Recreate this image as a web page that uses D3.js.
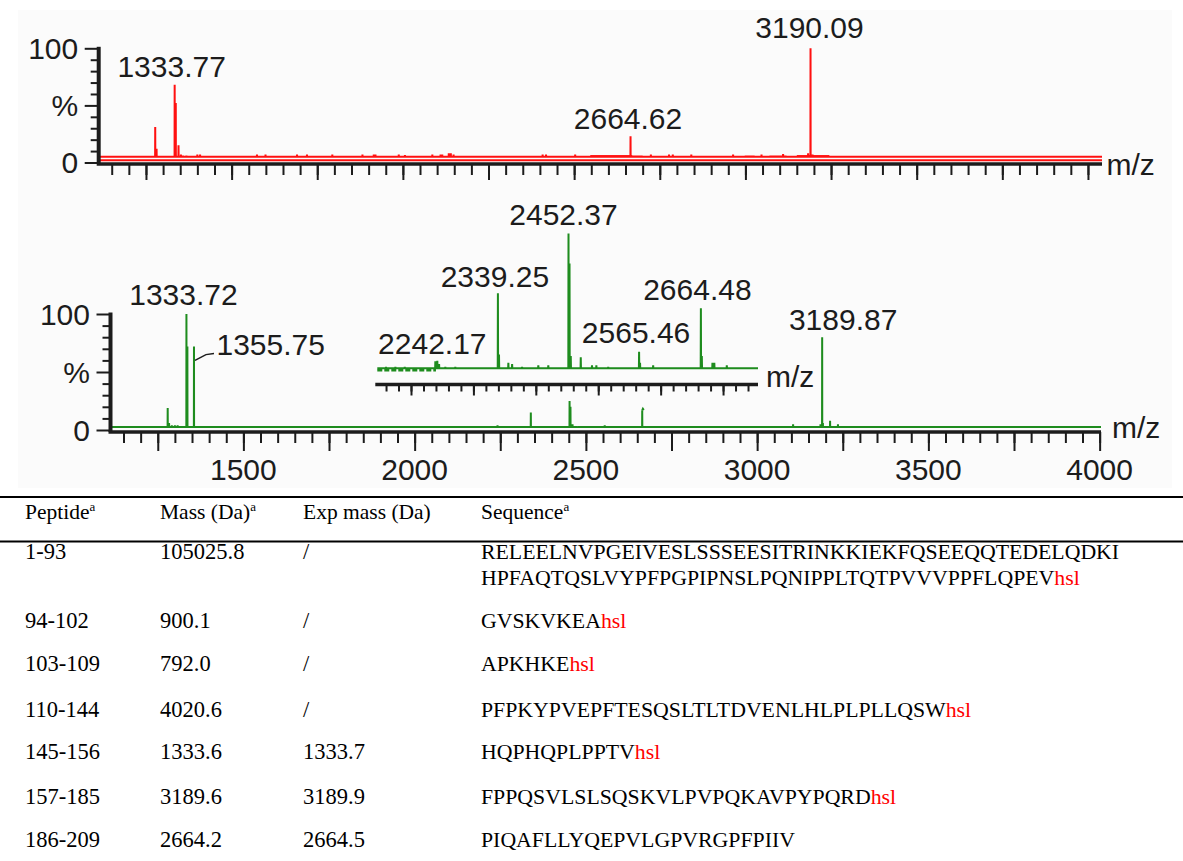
<!DOCTYPE html>
<html>
<head>
<meta charset="utf-8">
<script src="https://cdn.jsdelivr.net/npm/d3@7"></script>
<style>
  body { margin: 0; background: #fff; }
  svg { display: block; }
</style>
</head>
<body>
<svg id="chart" width="1183" height="861"></svg>
<script>
// ---------- Spectrum data (m/z, relative intensity %) ----------
// Upper spectrum (red)
const topMz  = [1277, 1281, 1333.77, 1337, 1345, 1352, 1358, 1368, 1400, 1408, 1574, 1599, 1691, 1720, 1794,
                1882, 1915, 1920, 1988, 2006, 2086, 2110, 2115, 2134, 2140, 2148, 2408, 2418, 2503, 2664.62,
                2724, 2777, 2788, 2842, 2964, 3047, 3110, 3183, 3190.09, 3196];
const topInt = [31, 12, 68, 52, 15, 7, 6, 6, 7, 7, 7, 7, 7, 7, 7,
                7, 7, 7, 7, 6.5, 7, 7, 7, 8, 8, 7, 7, 7, 7, 23,
                7, 7, 7, 7, 7, 7, 7.5, 8, 100, 7];
// raised noise stretches of the upper trace
const topBandFrom  = [2547, 2670, 2998, 3070, 3150];
const topBandTo    = [2670, 2700, 3027, 3120, 3245];
const topBandLevel = [6.5, 6, 6, 6, 6.5];
const topFloor = 5;

// Lower spectrum (green)
const botMz  = [1279, 1283, 1291, 1300, 1308, 1333.72, 1336.5, 1355.75, 2242, 2339.25, 2452.37, 2455, 2461,
                2475, 2555, 2664.48, 3105, 3185, 3189.87, 3192, 3213, 3236];
const botInt = [19, 6, 4, 4, 4, 100, 72, 72, 4, 15, 25, 20, 5,
                3, 4, 17, 5, 5, 80, 6, 8, 5];
const botHookMz  = [2664.48, 2666.5, 2669];
const botHookInt = [17, 18.3, 17.2];
const botFloor = 2.5;

// Inset: zoom of the lower spectrum, 2150-2750
const insMz  = [2160, 2175, 2190, 2239, 2242.17, 2245, 2255, 2271, 2339.25, 2341, 2356, 2362, 2378, 2404,
                2420, 2452.37, 2454, 2456, 2472, 2490, 2497, 2516, 2565.46, 2567, 2588, 2664.48, 2666,
                2683, 2686, 2706];
const insInt = [2, 2, 2, 6, 6.5, 4, 2, 2, 56, 11, 5, 4, 2, 3,
                3, 100, 78, 10, 9, 3, 3, 2, 13, 5, 3, 45, 10,
                5, 5, 3];
const insFloor = 1;

// Annotated peaks
const topLabelMz = [1333.77, 2664.62, 3190.09];
const botLabelMz = [1333.72, 1355.75, 3189.87];
const insLabelMz = [2242.17, 2339.25, 2452.37, 2565.46, 2664.48];

// Axis tick values
const xMinorTicks = d3.range(1150, 4001, 50);
const xMajorTicks = d3.range(1250, 4001, 250);
const xTickLabels = [1500, 2000, 2500, 3000, 3500, 4000];
const yTicksMinor = d3.range(0, 101, 10);
const yTickLabels = [[100, "100"], [50, "%"], [0, "0"]];
const insMinorTicks = d3.range(2160, 2741, 20);
const insMajorTicks = d3.range(2200, 2701, 100);

// ---------- Table data ----------
const tableHeads = ["Peptide", "Mass (Da)", "Exp mass (Da)", "Sequence"];
const headNoteA  = [true, true, false, true];
const peptides   = ["1-93", "94-102", "103-109", "110-144", "145-156", "157-185", "186-209"];
const masses     = ["105025.8", "900.1", "792.0", "4020.6", "1333.6", "3189.6", "2664.2"];
const expMasses  = ["/", "/", "/", "/", "1333.7", "3189.9", "2664.5"];
const sequences  = [
  ["RELEELNVPGEIVESLSSSEESITRINKKIEKFQSEEQQTEDELQDKI", "HPFAQTQSLVYPFPGPIPNSLPQNIPPLTQTPVVVPPFLQPEV"],
  ["GVSKVKEA"], ["APKHKE"], ["PFPKYPVEPFTESQSLTLTDVENLHLPLPLLQSW"], ["HQPHQPLPPTV"],
  ["FPPQSVLSLSQSKVLPVPQKAVPYPQRD"], ["PIQAFLLYQEPVLGPVRGPFPIIV"]
];
const hslEnd = [true, true, true, true, true, true, false];

// ---------- Drawing ----------
const svg = d3.select("#chart");
const RED = "#ff1010", GREEN = "#1e8c1e", INK = "#1c1c1c";
const LABEL_FONT = "'Liberation Sans', Arial, sans-serif";
const SERIF = "'Liberation Serif', 'Times New Roman', serif";

svg.append("rect").attr("x", 18).attr("y", 10).attr("width", 1154).attr("height", 478).attr("fill", "#fbfbfb");

const xTop = d3.scaleLinear().domain([1112, 4041]).range([98.7, 1102]);
const yTop = d3.scaleLinear().domain([0, 100]).range([162.5, 48.3]);
const xBot = d3.scaleLinear().domain([1112, 4004]).range([110.5, 1101]);
const yBot = d3.scaleLinear().domain([0, 100]).range([430, 314]);
const xIns = d3.scaleLinear().domain([2146, 2756]).range([377.3, 758]);
const yIns = d3.scaleLinear().domain([0, 100]).range([369.5, 233.5]);

// stick spectrum: floor, then a spike up to each peak value
function stickPath(x, y, mzs, vals, floor) {
  const idx = d3.range(mzs.length).sort((a, b) => mzs[a] - mzs[b]);
  const [lo, hi] = x.domain();
  const pts = [[lo, floor]];
  idx.forEach(i => {
    pts.push([mzs[i] - 0.3, floor], [mzs[i], vals[i]], [mzs[i] + 0.3, floor]);
  });
  pts.push([hi, floor]);
  return d3.line().x(d => x(d[0])).y(d => y(d[1]))(pts);
}

function drawXAxis(g, x, yLine, minor, major, minorLen, majorLen) {
  const [lo, hi] = x.range();
  g.append("line").attr("x1", lo - 2).attr("x2", hi).attr("y1", yLine).attr("y2", yLine)
    .attr("stroke", INK).attr("stroke-width", 3.5);
  g.append("g").attr("transform", `translate(0,${yLine})`)
    .call(d3.axisBottom(x).tickValues(minor).tickSize(minorLen).tickFormat(""))
    .call(a => a.select(".domain").remove())
    .selectAll("line").attr("stroke", INK).attr("stroke-width", 2);
  g.append("g").attr("transform", `translate(0,${yLine})`)
    .call(d3.axisBottom(x).tickValues(major).tickSize(majorLen).tickFormat(""))
    .call(a => a.select(".domain").remove())
    .selectAll("line").attr("stroke", INK).attr("stroke-width", 2);
}

function drawYAxis(g, xLine, y, yBase) {
  g.append("line").attr("x1", xLine).attr("x2", xLine).attr("y1", y(100) - 1.5).attr("y2", yBase)
    .attr("stroke", INK).attr("stroke-width", 4);
  g.append("g").attr("transform", `translate(${xLine - 1},0)`)
    .call(d3.axisLeft(y).tickValues(yTicksMinor.filter(v => v % 50 !== 0)).tickSize(7).tickFormat(""))
    .call(a => a.select(".domain").remove())
    .selectAll("line").attr("stroke", INK).attr("stroke-width", 2);
  g.append("g").attr("transform", `translate(${xLine - 1},0)`)
    .call(d3.axisLeft(y).tickValues([0, 50, 100]).tickSize(13).tickFormat(""))
    .call(a => a.select(".domain").remove())
    .selectAll("line").attr("stroke", INK).attr("stroke-width", 2);
  g.selectAll("text.ylab").data(yTickLabels).join("text")
    .attr("class", "ylab")
    .attr("x", xLine - 20.5).attr("y", d => y(d[0]) + 10.7)
    .attr("text-anchor", "end").attr("font-family", LABEL_FONT).attr("font-size", 30).attr("fill", INK)
    .text(d => d[1]);
}

function peakLabels(g, x, mzs, layout) {
  g.selectAll(null).data(mzs).join("text")
    .attr("x", (d, i) => x(d) + layout[i].dx)
    .attr("y", (d, i) => layout[i].y)
    .attr("text-anchor", (d, i) => layout[i].anchor || "middle")
    .attr("font-family", LABEL_FONT).attr("font-size", 30).attr("fill", INK)
    .text(d => d.toFixed(2));
}

// ----- upper spectrum -----
const gTop = svg.append("g");
gTop.append("line").attr("x1", xTop(1112)).attr("x2", xTop(4041)).attr("y1", yTop(2)).attr("y2", yTop(2))
  .attr("stroke", RED).attr("stroke-width", 2);
gTop.selectAll("rect.band").data(topBandFrom).join("rect").attr("class", "band")
  .attr("x", (d, i) => xTop(d)).attr("width", (d, i) => xTop(topBandTo[i]) - xTop(d))
  .attr("y", (d, i) => yTop(topBandLevel[i])).attr("height", (d, i) => yTop(topFloor) - yTop(topBandLevel[i]))
  .attr("fill", RED);
gTop.append("path").attr("d", stickPath(xTop, yTop, topMz, topInt, topFloor))
  .attr("fill", "none").attr("stroke", RED).attr("stroke-width", 2);
drawXAxis(gTop, xTop, 164, xMinorTicks, xMajorTicks, 11, 16);
drawYAxis(gTop, xTop.range()[0], yTop, 164);
gTop.append("text").attr("x", 1106.5).attr("y", 175).attr("font-family", LABEL_FONT)
  .attr("font-size", 30).attr("fill", INK).text("m/z");
peakLabels(gTop, xTop, topLabelMz, [{dx: -3, y: 77}, {dx: -2.5, y: 128.5}, {dx: -1, y: 38}]);

// ----- lower spectrum -----
const gBot = svg.append("g");
gBot.append("path").attr("d", stickPath(xBot, yBot, botMz, botInt, botFloor))
  .attr("fill", "none").attr("stroke", GREEN).attr("stroke-width", 2);
gBot.append("path")
  .attr("d", d3.line().x(d => xBot(d[0])).y(d => yBot(d[1]))(botHookMz.map((m, i) => [m, botHookInt[i]])))
  .attr("fill", "none").attr("stroke", GREEN).attr("stroke-width", 2);
drawXAxis(gBot, xBot, 432, xMinorTicks, xMajorTicks, 11, 19);
drawYAxis(gBot, xBot.range()[0], yBot, 432);
gBot.selectAll("text.xlab").data(xTickLabels).join("text").attr("class", "xlab")
  .attr("x", d => xBot(d)).attr("y", 480).attr("text-anchor", "middle")
  .attr("font-family", LABEL_FONT).attr("font-size", 30).attr("fill", INK).text(d => d);
gBot.append("text").attr("x", 1112).attr("y", 438).attr("font-family", LABEL_FONT)
  .attr("font-size", 30).attr("fill", INK).text("m/z");
peakLabels(gBot, xBot, botLabelMz, [{dx: -3, y: 305}, {dx: 22.5, y: 355, anchor: "start"}, {dx: 21, y: 329.5}]);
// leader from the 1355.75 peak to its label
const p1355 = xBot(1355.75);
gBot.append("path")
  .attr("d", `M${p1355 + 1},${yBot(60)} L${p1355 + 12},${yBot(65)} L${p1355 + 20},${yBot(66)}`)
  .attr("fill", "none").attr("stroke", INK).attr("stroke-width", 1.5);

// ----- inset -----
const gIns = svg.append("g");
gIns.append("line").attr("x1", xIns(2146)).attr("x2", xIns(2240)).attr("y1", yIns(insFloor) + 2).attr("y2", yIns(insFloor) + 2)
  .attr("stroke", GREEN).attr("stroke-width", 2.5).attr("stroke-dasharray", "5,2");
gIns.append("path").attr("d", stickPath(xIns, yIns, insMz, insInt, insFloor))
  .attr("fill", "none").attr("stroke", GREEN).attr("stroke-width", 2);
drawXAxis(gIns, xIns, 384.5, insMinorTicks, insMajorTicks, 7, 11);
gIns.append("text").attr("x", 766).attr("y", 387).attr("font-family", LABEL_FONT)
  .attr("font-size", 30).attr("fill", INK).text("m/z");
peakLabels(gIns, xIns, insLabelMz, [
  {dx: -5, y: 353.5}, {dx: -3, y: 287}, {dx: -5, y: 225}, {dx: -3, y: 343}, {dx: -3.5, y: 300}
]);

// ---------- Table ----------
const gTab = svg.append("g").attr("font-family", SERIF).attr("fill", "#000");
gTab.append("line").attr("x1", 0).attr("x2", 1183).attr("y1", 497).attr("y2", 497).attr("stroke", "#000").attr("stroke-width", 2);
gTab.append("line").attr("x1", 0).attr("x2", 1183).attr("y1", 541.5).attr("y2", 541.5).attr("stroke", "#000").attr("stroke-width", 2);

const colX = [25, 160, 303, 481];
const headY = 519;
const cellSize = 22.5, seqSize = 21.8;
tableHeads.forEach((h, i) => {
  const t = gTab.append("text").attr("x", colX[i]).attr("y", headY).attr("font-size", 21.5);
  t.append("tspan").text(h);
  if (headNoteA[i]) t.append("tspan").attr("font-size", 13).attr("dy", -8).text("a");
});

const rowY = [559, 628, 671, 717, 759, 804, 847];
const lineGap = 26;
peptides.forEach((p, r) => {
  gTab.append("text").attr("x", colX[0]).attr("y", rowY[r]).attr("font-size", cellSize).text(p);
  gTab.append("text").attr("x", colX[1]).attr("y", rowY[r]).attr("font-size", cellSize).text(masses[r]);
  gTab.append("text").attr("x", colX[2]).attr("y", rowY[r]).attr("font-size", cellSize).text(expMasses[r]);
  const lines = sequences[r];
  lines.forEach((s, k) => {
    const t = gTab.append("text").attr("x", colX[3]).attr("y", rowY[r] + k * lineGap).attr("font-size", seqSize);
    t.append("tspan").text(s);
    if (k === lines.length - 1 && hslEnd[r]) t.append("tspan").attr("fill", "#ff0000").text("hsl");
  });
});
</script>
</body>
</html>
